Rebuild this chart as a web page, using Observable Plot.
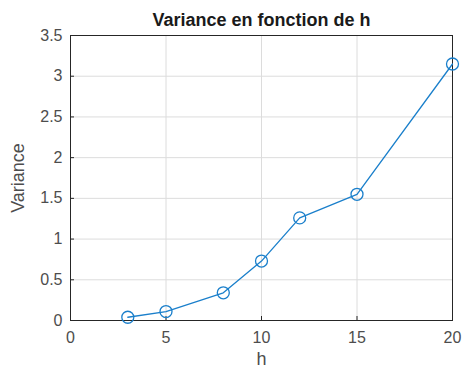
<!DOCTYPE html>
<html>
<head>
<meta charset="utf-8">
<script src="https://cdn.jsdelivr.net/npm/d3@7"></script>
<script src="https://cdn.jsdelivr.net/npm/@observablehq/plot@0.6"></script>
<style>
  html, body { margin: 0; padding: 0; background: #fff; }
  svg { display: block; }
</style>
</head>
<body>
<div id="chart"></div>
<script>
const hValues = [3, 5, 8, 10, 12, 15, 20];
const varianceValues = [0.04, 0.11, 0.34, 0.73, 1.26, 1.55, 3.15];
const xTicks = [0, 5, 10, 15, 20];
const yTicks = [0, 0.5, 1, 1.5, 2, 2.5, 3, 3.5];
const titleText = "Variance en fonction de h";
const xLabel = "h";
const yLabel = "Variance";

const data = hValues.map((h, i) => ({h, v: varianceValues[i]}));
const color = "#1a7fcb";

const chart = Plot.plot({
  width: 464,
  height: 371,
  marginLeft: 70,
  marginRight: 12,
  marginTop: 35,
  marginBottom: 51,
  style: {fontFamily: "'Liberation Sans', Arial, sans-serif", background: "#fff"},
  x: {domain: [0, 20], ticks: xTicks},
  y: {domain: [0, 3.5], ticks: yTicks},
  marks: [
    Plot.gridX(xTicks, {stroke: "#dcdcdc", strokeOpacity: 1}),
    Plot.gridY(yTicks, {stroke: "#dcdcdc", strokeOpacity: 1}),
    Plot.axisX(xTicks, {tickSize: 0, tickPadding: 11, fontSize: 16, fill: "#4d4d4d", label: null}),
    Plot.axisY(yTicks, {tickSize: 0, tickPadding: 8, fontSize: 16, fill: "#4d4d4d", label: null, tickFormat: d => String(d)}),
    Plot.axisX(xTicks, {tickSize: -4, text: null, stroke: "#262626", label: null}),
    Plot.axisY(yTicks, {tickSize: -4, text: null, stroke: "#262626", label: null}),
    Plot.frame({stroke: "#262626", strokeWidth: 1}),
    Plot.line(data, {x: "h", y: "v", stroke: color, strokeWidth: 1.3}),
    Plot.dot(data, {x: "h", y: "v", r: 6, stroke: color, strokeWidth: 1.3, fill: "none"}),
    Plot.text([titleText], {frameAnchor: "top", dy: -22, fontSize: 18, fontWeight: "bold", fill: "#1a1a1a"}),
    Plot.text([xLabel], {frameAnchor: "bottom", dy: 44, fontSize: 18, fill: "#4d4d4d"}),
    Plot.text([yLabel], {frameAnchor: "left", dx: -52, rotate: -90, textAnchor: "middle", fontSize: 18, fill: "#4d4d4d"})
  ]
});
document.getElementById("chart").append(chart);
</script>
</body>
</html>
